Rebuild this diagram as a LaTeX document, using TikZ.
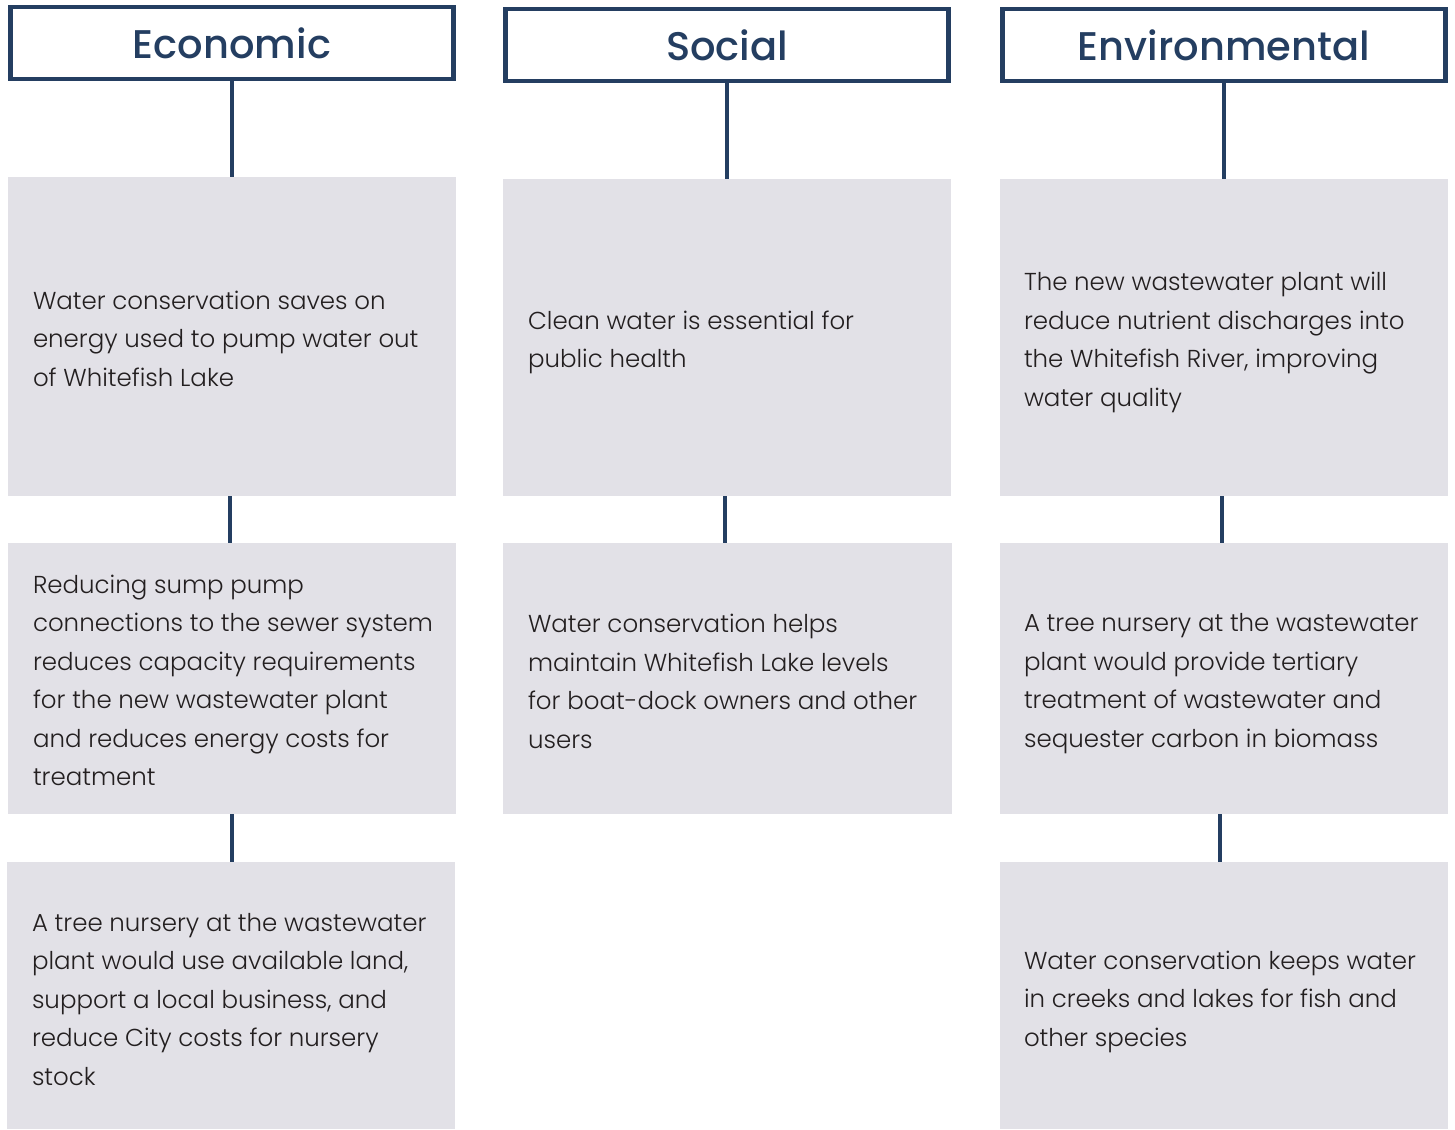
\documentclass[tikz,border=0pt]{standalone}
\usepackage{fontspec}
\setmainfont{Poppins}[UprightFont=* Light, BoldFont=* Medium]
\usetikzlibrary{positioning}
\definecolor{navy}{HTML}{243E61}
\definecolor{boxgray}{HTML}{E2E1E7}
\definecolor{txt}{HTML}{231F20}
\tikzset{
  x=1pt, y=-1pt,
  header/.style={draw=navy, line width=4.5pt, fill=white, minimum width=443pt, minimum height=72pt, inner sep=0pt,
    text=navy, font=\fontsize{40}{46}\selectfont\bfseries},
  graybox/.style={fill=boxgray, draw=none, minimum width=448pt, inner sep=0pt},
  boxtext/.style={anchor=west, align=left, inner sep=0pt, text=txt, font=\fontsize{24.5}{38.5}\selectfont},
  link/.style={draw=navy, line width=4.3pt}
}
\begin{document}
\begin{tikzpicture}
\useasboundingbox (0,0) rectangle (1455,1129);
% gray boxes
\node[graybox, minimum height=319pt] (e1) at (232,336.5) {};
\node[graybox, minimum height=317pt] (s1) at (727,337.5) {};
\node[graybox, minimum height=317pt] (v1) at (1224,337.5) {};
\node[graybox, minimum height=271pt] (e2) at (232,678.5) {};
\node[graybox, minimum height=271pt, minimum width=449pt] (s2) at (727.5,678.5) {};
\node[graybox, minimum height=271pt] (v2) at (1224,678.5) {};
\node[graybox, minimum height=267pt] (e3) at (231,995.5) {};
\node[graybox, minimum height=267pt] (v3) at (1224,995.5) {};
% headers
\node[header] (he) at (232,43) {Economic};
\node[header] (hs) at (727,45) {Social};
\node[header] (hv) at (1224,45) {Environmental};
% connectors
\draw[link] (he.south) -- (e1.north);
\draw[link] (hs.south) -- (s1.north);
\draw[link] (hv.south) -- (v1.north);
\draw[link] ([xshift=-2pt]e1.south) -- ([xshift=-2pt]e2.north);
\draw[link] ([xshift=-2pt]s1.south) -- ([xshift=-2.5pt]s2.north);
\draw[link] ([xshift=-2pt]v1.south) -- ([xshift=-2pt]v2.north);
\draw[link] (e2.south) -- ([xshift=1pt]e3.north);
\draw[link] ([xshift=-4pt]v2.south) -- ([xshift=-4pt]v3.north);
% texts
\node[boxtext] (te1) at ([xshift=25pt,yshift=-2pt]e1.west) {Water conservation saves on\\energy used to pump water out\\of Whitefish Lake};
\node[boxtext] (te2) at ([xshift=25pt,yshift=-2pt]e2.west) {Reducing sump pump\\connections to the sewer system\\reduces capacity requirements\\for the new wastewater plant\\and reduces energy costs for\\treatment};
\node[boxtext] (te3) at ([xshift=25pt,yshift=-4pt]e3.west) {A tree nursery at the wastewater\\plant would use available land,\\support a local business, and\\reduce City costs for nursery\\stock};
\node[boxtext] (ts1) at ([xshift=25pt,yshift=-5pt]s1.west) {Clean water is essential for\\public health};
\node[boxtext] (ts2) at ([xshift=25pt,yshift=-3pt]s2.west) {Water conservation helps\\maintain Whitefish Lake levels\\for boat-dock owners and other\\users};
\node[boxtext] (tv1) at ([xshift=24pt,yshift=-5pt]v1.west) {The new wastewater plant will\\reduce nutrient discharges into\\the Whitefish River, improving\\water quality};
\node[boxtext] (tv2) at ([xshift=24pt,yshift=-5pt]v2.west) {A tree nursery at the wastewater\\plant would provide tertiary\\treatment of wastewater and\\sequester carbon in biomass};
\node[boxtext] (tv3) at ([xshift=24pt,yshift=-6pt]v3.west) {Water conservation keeps water\\in creeks and lakes for fish and\\other species};
\end{tikzpicture}
\end{document}
